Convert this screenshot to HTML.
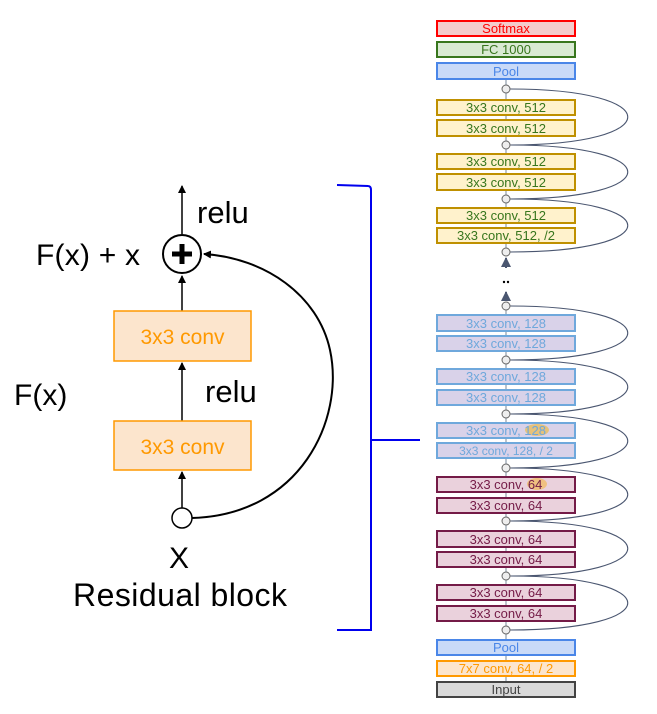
<!DOCTYPE html>
<html><head><meta charset="utf-8"><style>
html,body{margin:0;padding:0;background:#fff;}
svg{display:block;}
</style></head><body>
<svg width="657" height="714" viewBox="0 0 657 714" xmlns="http://www.w3.org/2000/svg">
<defs>
<marker id="ah" markerWidth="8" markerHeight="8" refX="7" refY="4" orient="auto" markerUnits="userSpaceOnUse"><path d="M0,0 L8,4 L0,8 z" fill="#000"/></marker>
<marker id="ah2" markerWidth="10" markerHeight="10" refX="9" refY="5" orient="auto" markerUnits="userSpaceOnUse"><path d="M0,0 L10,5 L0,10 z" fill="#4a5670"/></marker>
</defs>
<g font-family="Liberation Sans, sans-serif">
<line x1="182" y1="234" x2="182" y2="186" stroke="#000" stroke-width="1.5" marker-end="url(#ah)"/>
<circle cx="182" cy="254" r="19" fill="#fff" stroke="#000" stroke-width="2"/>
<path d="M172 254 H192 M182 244 V264" stroke="#000" stroke-width="5"/>
<line x1="182" y1="311" x2="182" y2="276" stroke="#000" stroke-width="1.5" marker-end="url(#ah)"/>
<rect x="114" y="311" width="137" height="50" fill="#fce5cd" stroke="#f90" stroke-width="1.5"/>
<text x="182.5" y="344" font-size="21" fill="#f90" text-anchor="middle">3x3 conv</text>
<line x1="182" y1="421" x2="182" y2="363" stroke="#000" stroke-width="1.5" marker-end="url(#ah)"/>
<rect x="114" y="421" width="137" height="49" fill="#fce5cd" stroke="#f90" stroke-width="1.5"/>
<text x="182.5" y="454" font-size="21" fill="#f90" text-anchor="middle">3x3 conv</text>
<line x1="182" y1="508" x2="182" y2="472" stroke="#000" stroke-width="1.5" marker-end="url(#ah)"/>
<circle cx="182" cy="518" r="10" fill="#fff" stroke="#000" stroke-width="1.5"/>
<path d="M192 518 C300 515 345 420 330 350 C318 295 265 258 204 254" fill="none" stroke="#000" stroke-width="2" marker-end="url(#ah)"/>
<text x="197" y="223" font-size="31" fill="#000">relu</text>
<text x="36" y="265" font-size="30" fill="#000" textLength="104">F(x) + x</text>
<text x="14" y="405" font-size="30" fill="#000">F(x)</text>
<text x="205" y="402" font-size="31" fill="#000">relu</text>
<text x="179" y="568" font-size="30" fill="#000" text-anchor="middle">X</text>
<text x="73" y="606" font-size="32" fill="#000" textLength="214">Residual block</text>
<path d="M337 185 L368 186 Q371 186 371 190 L371 630 L337 630 M371 440 L420 440" fill="none" stroke="#0000ee" stroke-width="2"/>
</g>
<g font-family="Liberation Sans, sans-serif" font-size="13" text-anchor="middle">
<line x1="506" y1="79" x2="506" y2="252" stroke="#7a8a9a" stroke-width="1"/>
<line x1="506" y1="306" x2="506" y2="682" stroke="#7a8a9a" stroke-width="1"/>
<line x1="506" y1="268" x2="506" y2="258" stroke="#4a5670" stroke-width="2" marker-end="url(#ah2)"/>
<line x1="506" y1="301" x2="506" y2="292" stroke="#4a5670" stroke-width="2" marker-end="url(#ah2)"/>
<circle cx="504" cy="282" r="1.2" fill="#000"/><circle cx="508" cy="282" r="1.2" fill="#000"/>
<g fill="none" stroke="#4a5670" stroke-width="1.1">
<path d="M510 145 C667 145 667 89 510 89"/>
<path d="M510 199 C667 199 667 145 510 145"/>
<path d="M510 252 C667 252 667 199 510 199"/>
<path d="M510 360 C667 360 667 306 510 306"/>
<path d="M510 414 C667 414 667 360 510 360"/>
<path d="M510 468 C667 468 667 414 510 414"/>
<path d="M510 521 C667 521 667 468 510 468"/>
<path d="M510 576 C667 576 667 521 510 521"/>
<path d="M510 630 C667 630 667 576 510 576"/>
</g>
<g fill="#eee" stroke="#666" stroke-width="1">
<circle cx="506" cy="89" r="4"/><circle cx="506" cy="145" r="4"/><circle cx="506" cy="199" r="4"/><circle cx="506" cy="252" r="4"/>
<circle cx="506" cy="306" r="4"/><circle cx="506" cy="360" r="4"/><circle cx="506" cy="414" r="4"/><circle cx="506" cy="468" r="4"/>
<circle cx="506" cy="521" r="4"/><circle cx="506" cy="576" r="4"/><circle cx="506" cy="630" r="4"/>
</g>
<g stroke-width="2">
<rect x="437" y="21" width="138" height="15" fill="#f4cccc" stroke="#f00"/><text x="506" y="33" fill="#f00">Softmax</text>
<rect x="437" y="42" width="138" height="15" fill="#d9ead3" stroke="#38761d"/><text x="506" y="54" fill="#38761d">FC 1000</text>
<rect x="437" y="63" width="138" height="16" fill="#c9daf8" stroke="#4a86e8"/><text x="506" y="76" fill="#4a86e8">Pool</text>
<rect x="437" y="100" width="138" height="15" fill="#fff2cc" stroke="#bf9000"/><text x="506" y="112" fill="#38761d">3x3 conv, 512</text>
<rect x="437" y="120" width="138" height="16" fill="#fff2cc" stroke="#bf9000"/><text x="506" y="133" fill="#38761d">3x3 conv, 512</text>
<rect x="437" y="154" width="138" height="15" fill="#fff2cc" stroke="#bf9000"/><text x="506" y="166" fill="#38761d">3x3 conv, 512</text>
<rect x="437" y="174" width="138" height="16" fill="#fff2cc" stroke="#bf9000"/><text x="506" y="187" fill="#38761d">3x3 conv, 512</text>
<rect x="437" y="208" width="138" height="15" fill="#fff2cc" stroke="#bf9000"/><text x="506" y="220" fill="#38761d">3x3 conv, 512</text>
<rect x="437" y="228" width="138" height="15" fill="#fff2cc" stroke="#bf9000"/><text x="506" y="240" fill="#38761d">3x3 conv, 512, /2</text>
<rect x="437" y="315" width="138" height="16" fill="#d9d2e9" stroke="#6fa8dc"/><text x="506" y="328" fill="#6fa8dc">3x3 conv, 128</text>
<rect x="437" y="336" width="138" height="15" fill="#d9d2e9" stroke="#6fa8dc"/><text x="506" y="348" fill="#6fa8dc">3x3 conv, 128</text>
<rect x="437" y="369" width="138" height="15" fill="#d9d2e9" stroke="#6fa8dc"/><text x="506" y="381" fill="#6fa8dc">3x3 conv, 128</text>
<rect x="437" y="390" width="138" height="15" fill="#d9d2e9" stroke="#6fa8dc"/><text x="506" y="402" fill="#6fa8dc">3x3 conv, 128</text>
<rect x="437" y="423" width="138" height="15" fill="#d9d2e9" stroke="#6fa8dc"/>
<ellipse cx="537" cy="430" rx="12" ry="6" fill="#e6c27a" stroke="none"/>
<text x="506" y="435" fill="#6fa8dc">3x3 conv, 128</text>
<rect x="437" y="443" width="138" height="15" fill="#d9d2e9" stroke="#6fa8dc"/><text x="506" y="455" fill="#6fa8dc" font-size="12">3x3 conv, 128, / 2</text>
<rect x="437" y="477" width="138" height="15" fill="#ead1dc" stroke="#741b47"/>
<ellipse cx="537" cy="484" rx="10" ry="6" fill="#f0c080" stroke="none"/>
<text x="506" y="489" fill="#741b47">3x3 conv, 64</text>
<rect x="437" y="498" width="138" height="15" fill="#ead1dc" stroke="#741b47"/><text x="506" y="510" fill="#741b47">3x3 conv, 64</text>
<rect x="437" y="531" width="138" height="16" fill="#ead1dc" stroke="#741b47"/><text x="506" y="544" fill="#741b47">3x3 conv, 64</text>
<rect x="437" y="552" width="138" height="15" fill="#ead1dc" stroke="#741b47"/><text x="506" y="564" fill="#741b47">3x3 conv, 64</text>
<rect x="437" y="585" width="138" height="15" fill="#ead1dc" stroke="#741b47"/><text x="506" y="597" fill="#741b47">3x3 conv, 64</text>
<rect x="437" y="606" width="138" height="15" fill="#ead1dc" stroke="#741b47"/><text x="506" y="618" fill="#741b47">3x3 conv, 64</text>
<rect x="437" y="640" width="138" height="15" fill="#c9daf8" stroke="#4a86e8"/><text x="506" y="652" fill="#4a86e8">Pool</text>
<rect x="437" y="661" width="138" height="15" fill="#fce5cd" stroke="#f90"/><text x="506" y="673" fill="#f90">7x7 conv, 64, / 2</text>
<rect x="437" y="682" width="138" height="15" fill="#d9d9d9" stroke="#434343"/><text x="506" y="694" fill="#434343">Input</text>
</g>
</g>
</svg>
</body></html>
